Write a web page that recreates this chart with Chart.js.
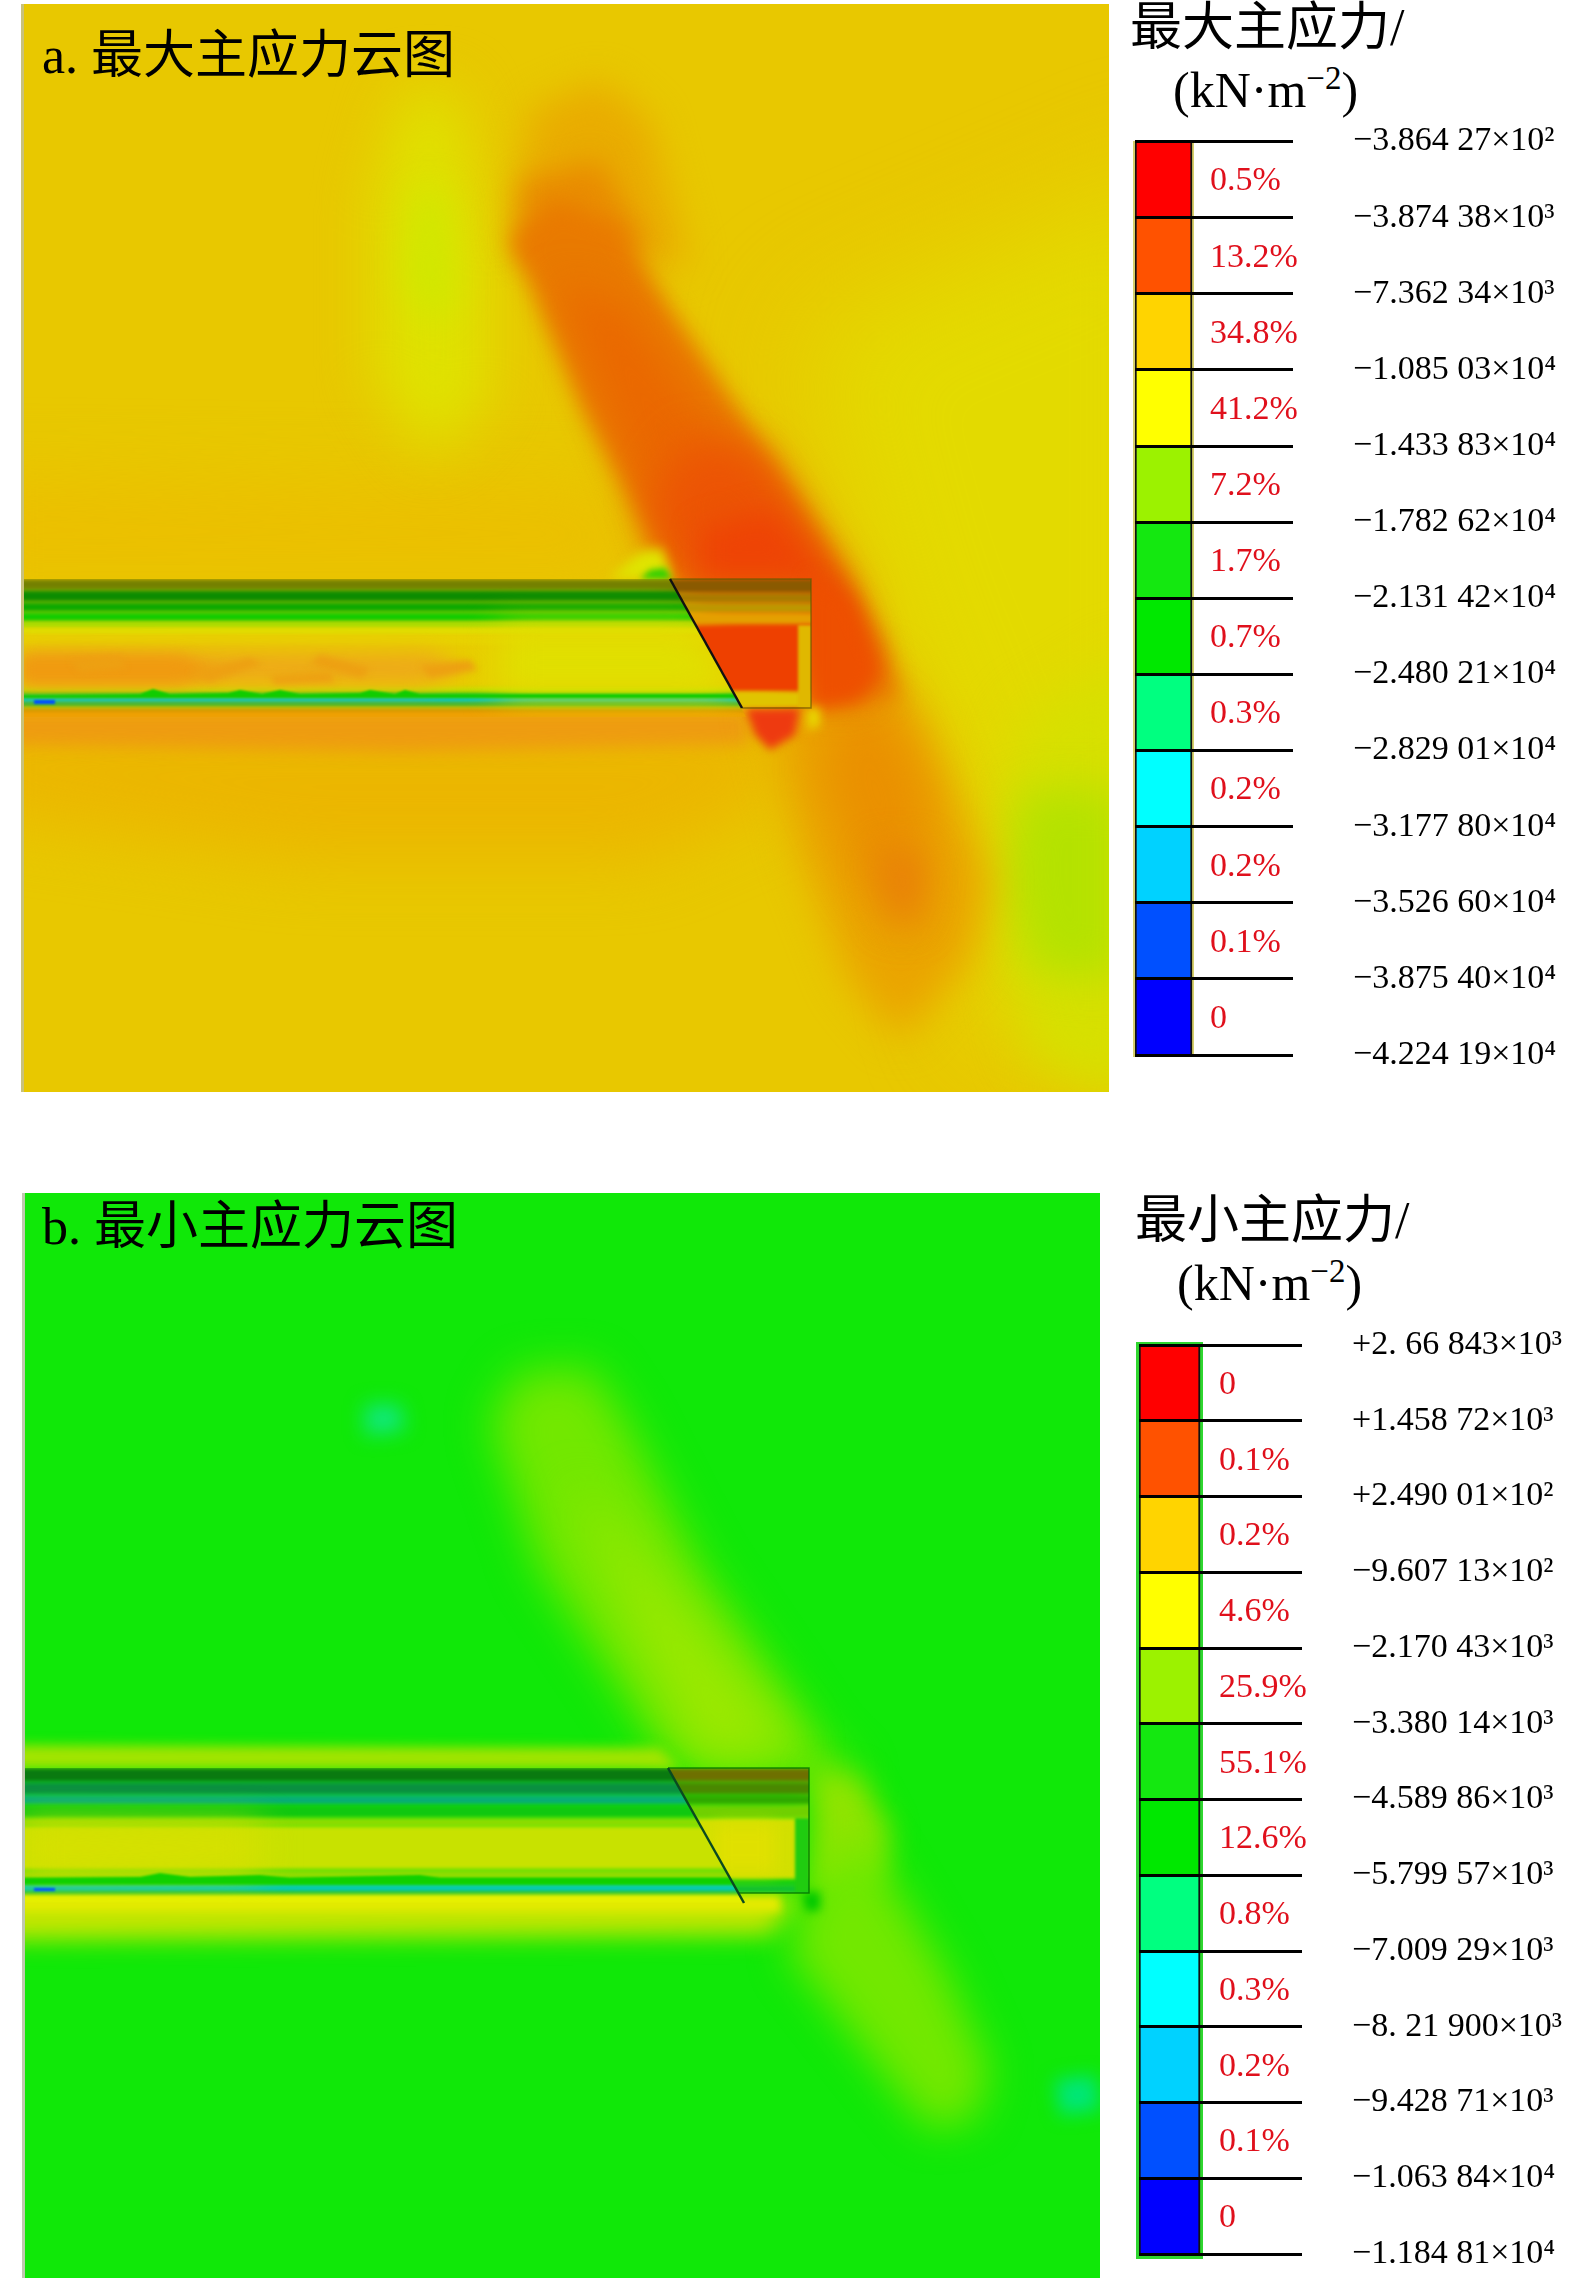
<!DOCTYPE html>
<html>
<head>
<meta charset="utf-8">
<title>主应力云图</title>
<script src="https://cdn.jsdelivr.net/npm/chart.js@4"></script>
<style>
  html, body { margin: 0; padding: 0; background: #fff; }
  body { position: relative; width: 1575px; height: 2281px; overflow: hidden; font-family: "Liberation Serif", "Noto Sans CJK SC", serif; color: #000; }
  canvas, .txt, .frame { position: absolute; }
  .txt { white-space: nowrap; line-height: 1; }
  .panel-title, .bar-title { font-size: 52px; }
  .bar-unit { font-size: 50px; }
  .bar-unit sup { font-size: 33px; line-height: 0; }
</style>
</head>
<body>
<canvas id="fieldA" width="1088" height="1088" style="left:21px;top:4px"></canvas>
<div class="txt panel-title" style="left:42px;top:30px">a. 最大主应力云图</div>
<div class="txt bar-title" style="left:1130px;top:2px">最大主应力/</div>
<div class="txt bar-unit" style="left:1173px;top:65px">(kN·m<sup>−2</sup>)</div>
<div class="frame" style="left:1133px;top:141px;width:61px;height:916px;background:#d6cf6a"></div>
<canvas id="barA" width="440" height="1000" style="left:1135px;top:100px"></canvas>

<canvas id="fieldB" width="1078" height="1085" style="left:22px;top:1193px"></canvas>
<div class="txt panel-title" style="left:42px;top:1201px">b. 最小主应力云图</div>
<div class="txt bar-title" style="left:1135px;top:1195px">最小主应力/</div>
<div class="txt bar-unit" style="left:1177px;top:1258px">(kN·m<sup>−2</sup>)</div>
<div class="frame" style="left:1136px;top:1342px;width:67px;height:917px;background:#2fd62f"></div>
<canvas id="barB" width="436" height="1000" style="left:1139px;top:1300px"></canvas>

<script>
const spectrum = ["#ff0000", "#ff5200", "#ffd400", "#ffff00", "#9cf200", "#14e810", "#00e800", "#00ff80", "#00ffff", "#00d2ff", "#0050ff", "#0000ff"];

const sharesA = ["0.5%", "13.2%", "34.8%", "41.2%", "7.2%", "1.7%", "0.7%", "0.3%", "0.2%", "0.2%", "0.1%", "0"];
const sharesB = ["0", "0.1%", "0.2%", "4.6%", "25.9%", "55.1%", "12.6%", "0.8%", "0.3%", "0.2%", "0.1%", "0"];

const levelsA = ["−3.864 27×10²", "−3.874 38×10³", "−7.362 34×10³", "−1.085 03×10⁴", "−1.433 83×10⁴", "−1.782 62×10⁴", "−2.131 42×10⁴", "−2.480 21×10⁴", "−2.829 01×10⁴", "−3.177 80×10⁴", "−3.526 60×10⁴", "−3.875 40×10⁴", "−4.224 19×10⁴"];
const levelsB = ["+2. 66 843×10³", "+1.458 72×10³", "+2.490 01×10²", "−9.607 13×10²", "−2.170 43×10³", "−3.380 14×10³", "−4.589 86×10³", "−5.799 57×10³", "−7.009 29×10³", "−8. 21 900×10³", "−9.428 71×10³", "−1.063 84×10⁴", "−1.184 81×10⁴"];

// contour outlines, in image pixels
const aRightYellow = [[800,330],[1200,160],[1200,1040],[990,1040],[950,800],[870,600]];
const aLeftWarm = [[-40,480],[620,490],[640,579],[-40,579]];
const aBelowWarm = [[-40,715],[760,715],[780,800],[640,860],[300,860],[-40,810]];
const aBelowStrong = [[-20,710],[750,710],[750,745],[400,752],[-20,745]];
const aPlumeOuter = [[405,90],[455,90],[490,250],[490,400],[430,460],[375,380],[375,200]];
const aPlumeInner = [[415,190],[445,190],[455,300],[430,330],[405,280]];
const aLowPlumeOuter = [[1020,720],[1140,650],[1140,1110],[1030,1060],[1000,900]];
const aLowPlumeInner = [[1020,790],[1120,790],[1120,980],[1030,970],[1010,880]];
const aBandHead = [[530,110],[600,80],[650,120],[690,270],[510,240]];
const aBandNeck = [[520,180],[600,160],[650,250],[520,260]];
const aBandBody = [[510,240],[555,200],[620,225],[665,300],[785,480],[885,640],[900,700],[800,700],[700,610],[669,567],[582,407]];
const aBandCore = [[560,280],[625,310],[770,500],[860,640],[760,640],[665,560],[610,420]];
const aBandWarm = [[650,500],[690,440],[760,450],[850,590],[870,690],[820,700],[811,579],[680,579]];
const aBandHot = [[700,530],[770,510],[835,585],[860,670],[820,680],[811,579],[700,579]];
const aBoxRight = [[811,575],[850,600],[880,670],[860,700],[811,710]];
const aLowBand = [[760,690],[885,660],[930,730],[990,880],[970,960],[900,1040],[850,980],[800,850]];
const aLowCore = [[840,710],[890,710],[930,800],[905,930],[860,880],[820,770]];
const aLowHot = [[875,850],[925,850],[920,925],[890,920]];
const aBumpHalo = [[610,579],[640,552],[662,548],[672,579]];
const aBump = [[640,579],[650,570],[665,568],[672,579]];
const aTip = [[745,708],[800,708],[795,735],[770,750],[755,735]];
const aSpot = [[806,708],[820,708],[820,726],[808,730]];
const aCoreWarm = [[21,650],[430,652],[470,670],[420,685],[21,686]];
const aCoreHot = [[21,655],[180,655],[220,672],[180,684],[21,684]];
const aCoreLight = [[500,630],[700,630],[740,695],[500,695]];
const aCoreFlecks = [[[70,660],[120,655],[125,668],[80,672]], [[190,672],[250,658],[262,664],[210,682]], [[320,655],[370,668],[362,678],[310,664]], [[420,666],[470,660],[478,670],[430,678]], [[270,676],[330,672],[335,682],[275,684]]];
const aFringe = [[21,695],[140,694],[153,689],[170,694],[228,693],[240,690],[262,694],[280,690],[300,694],[360,693],[370,690],[395,694],[405,690],[420,694],[742,694],[742,698],[21,698]];
const aStreak = [[34,700],[55,700],[55,704],[34,704]];
const aBoxHotEdge = [[798,625],[812,625],[812,708],[798,708]];

const aSlabLeft = [[0,579],[670,579],[746,717],[0,717]];
const aSlabBox = [[670,579],[811,579],[811,707],[742,707]];
const aRowEdges = [579,590,602,612,622,628,635,647,687,693,696,703,707,710,712,717];
const aRowTints = ["#748000","#0c8c00","#0ca800","#12cc00","#a4e000","#e0e000","#e8d200","#e8ce00","#c8e000","#10cc00","#00c8c8","#00b030","#e8d800","#a86400","#f0a000"];
const aBoxEdges = [579,593,603,613,625,692,707];
const aBoxTints = ["#8a5a00","#a87c00","#bc9800","#e4a000","#ee4000","#e0c400"];
const aSlant = [[670,579],[742,708]];
const aBoxLine = [[670,579],[811,579],[811,708],[742,708]];

const bBandUp = [[490,1420],[520,1372],[590,1368],[625,1420],[700,1567],[825,1750],[860,1780],[700,1780],[660,1750],[538,1567]];
const bBandInner = [[570,1480],[610,1520],[800,1750],[700,1760],[640,1640]];
const bBoxRight = [[811,1765],[860,1775],[890,1830],[880,1880],[830,1900],[811,1890]];
const bBandLow = [[800,1900],[860,1830],[885,1870],[945,1970],[990,2070],[975,2120],[930,2130],[900,2095],[790,1955]];
const bHaloUp = [[-20,1745],[660,1748],[680,1769],[-20,1769]];
const bHaloLow = [[-20,1894],[800,1894],[770,1935],[-20,1940]];
const bHaloStrong = [[-20,1896],[780,1896],[780,1912],[-20,1912]];
const bDarkSpot = [[802,1892],[820,1892],[820,1910],[806,1912]];
const bTealUp = [[365,1405],[400,1405],[405,1430],[365,1435]];
const bTealLow = [[1055,2080],[1095,2075],[1100,2110],[1060,2115]];
const bCoreWarm = [[21,1825],[260,1828],[260,1868],[21,1872]];
const bCoreLight = [[715,1825],[775,1825],[775,1872],[715,1872]];
const bFringe = [[22,1878],[140,1877],[160,1873],[190,1877],[260,1875],[290,1878],[420,1875],[440,1878],[742,1878],[742,1884],[22,1884]];
const bStreak = [[34,1888],[55,1888],[55,1891],[34,1891]];
const bBoxEdge = [[795,1818],[810,1818],[810,1893],[795,1893]];

const bSlabLeft = [[0,1768],[668,1768],[744,1903],[0,1903]];
const bSlabBox = [[668,1768],[809,1768],[809,1893],[738,1893]];
const bRowEdges = [1768,1782,1795,1805,1818,1826,1870,1880,1885,1892,1895,1903];
const bRowTints = ["#0a7a10","#0a9040","#08ad78","#10c810","#90dc00","#c8e200","#90dc00","#10d000","#00c8c8","#00b030","#e8f000"];
const bBoxEdges = [1768,1782,1795,1805,1818,1880,1885,1893];
const bBoxTints = ["#6e7000","#4a8800","#30a800","#70d000","#d2e000","#10cc10","#10c030"];
const bSlant = [[668,1768],[744,1903]];
const bBoxLine = [[668,1768],[809,1768],[809,1893],[738,1893]];

// filled contour patch: same parsing as a line, drawn as a soft polygon
class FieldPatch extends Chart.LineController {
  draw() {
    const ds = this.getDataset();
    const ctx = this.chart.ctx;
    const { x, y } = this.chart.scales;
    const points = this.getMeta().data;
    ctx.save();
    if (ds.inside) {
      ctx.beginPath();
      ds.inside.forEach((p) => ctx.lineTo(x.getPixelForValue(p[0]), y.getPixelForValue(p[1])));
      ctx.closePath();
      ctx.clip();
    }
    if (ds.soft) ctx.filter = `blur(${ds.soft}px)`;
    ctx.fillStyle = ds.tint;
    ctx.beginPath();
    points.forEach((pt) => ctx.lineTo(pt.x, pt.y));
    ctx.closePath();
    ctx.fill();
    ctx.restore();
  }
}
FieldPatch.id = "fieldPatch";
FieldPatch.defaults = {};
Chart.register(FieldPatch);

function patch(outline, tint, soft, inside) {
  return {
    type: "fieldPatch",
    data: outline.map((p) => ({ x: p[0], y: p[1] })),
    tint: tint,
    soft: soft,
    inside: inside,
  };
}

function rows(edges, tints, x0, x1, inside) {
  return tints.map((tint, i) =>
    patch([[x0, edges[i]], [x1, edges[i]], [x1, edges[i + 1]], [x0, edges[i + 1]]], tint, 2, inside)
  );
}

function stroke(path, color, width) {
  return {
    type: "line",
    data: path.map((p) => ({ x: p[0], y: p[1] })),
    borderColor: color,
    borderWidth: width,
    pointRadius: 0,
    fill: false,
    tension: 0,
  };
}

function field(id, xMin, xMax, yMin, yMax, datasets) {
  new Chart(document.getElementById(id), {
    type: "line",
    // chart.js paints the first dataset last, the lists below are bottom to top
    data: { datasets: datasets.reverse() },
    options: {
      responsive: false,
      animation: false,
      events: [],
      layout: { padding: 0, autoPadding: false },
      plugins: { legend: { display: false }, tooltip: { enabled: false } },
      scales: {
        x: { type: "linear", display: false, min: xMin, max: xMax },
        y: { type: "linear", display: false, min: yMin, max: yMax, reverse: true },
      },
    },
  });
}

function colorBar(id, shares, levels, padTop, padBottom, xMax, axisWidth, shareGap, levelGap) {
  new Chart(document.getElementById(id), {
    type: "bar",
    data: {
      labels: shares,
      datasets: [{
        data: shares.map(() => 1),
        backgroundColor: spectrum,
        borderColor: "#111",
        borderWidth: { left: 2, right: 2, top: 0, bottom: 0 },
        borderSkipped: false,
        barPercentage: 1,
        categoryPercentage: 1,
        xAxisID: "x",
        yAxisID: "y",
      }],
    },
    options: {
      indexAxis: "y",
      responsive: false,
      animation: false,
      events: [],
      layout: { padding: { top: padTop, bottom: padBottom, left: 0, right: 0 } },
      plugins: { legend: { display: false }, tooltip: { enabled: false } },
      scales: {
        x: { type: "linear", display: false, min: 0, max: xMax },
        y: {
          type: "category",
          position: "left",
          offset: true,
          border: { display: false },
          grid: { offset: true, color: "#000", lineWidth: 3, drawTicks: false, z: 1 },
          afterFit: (scale) => {
            scale.width = 0;
            scale.paddingTop = 0;
            scale.paddingBottom = 0;
          },
          ticks: {
            mirror: true,
            padding: shareGap,
            labelOffset: 2,
            autoSkip: false,
            color: "#e0101c",
            font: { family: "'Liberation Serif'", size: 34 },
          },
        },
        levels: {
          type: "linear",
          position: "right",
          min: 0,
          max: 12,
          reverse: true,
          offset: false,
          border: { display: false },
          grid: { drawOnChartArea: false, drawTicks: false, offset: false },
          afterBuildTicks: (scale) => { scale.ticks = levels.map((_, i) => ({ value: i })); },
          afterFit: (scale) => {
            scale.width = axisWidth;
            scale.paddingTop = 0;
            scale.paddingBottom = 0;
          },
          ticks: {
            padding: levelGap,
            autoSkip: false,
            color: "#000",
            font: { family: "'Liberation Serif'", size: 34 },
            callback: (v) => levels[v],
          },
        },
      },
    },
  });
}

field("fieldA", 21, 1109, 4, 1092, [
  patch([[0,-50],[1200,-50],[1200,1200],[0,1200]], "#e8c800", 0),
  patch(aRightYellow, "#e3da00", 55),
  patch(aLeftWarm, "#ebbf00", 35),
  patch(aBelowWarm, "#ebb600", 32),
  patch(aBelowStrong, "#ee9c10", 8),
  patch(aPlumeOuter, "#dfe200", 28),
  patch(aPlumeInner, "#cfe800", 18),
  patch(aLowPlumeOuter, "#d6e000", 26),
  patch(aLowPlumeInner, "#b4e200", 22),
  patch(aBandHead, "#e9ac00", 18),
  patch(aBandNeck, "#e98c00", 14),
  patch(aLowBand, "#eaa400", 20),
  patch(aLowCore, "#ea9000", 22),
  patch(aLowHot, "#e98008", 18),
  patch(aBandBody, "#e97a00", 11),
  patch(aBandCore, "#ea6800", 20),
  patch(aBandWarm, "#ec5404", 22),
  patch(aBandHot, "#ee4405", 14),
  patch(aBoxRight, "#ee5000", 9),
  patch(aBumpHalo, "#dfe400", 6),
  patch(aBump, "#30d000", 3),
  patch(aTip, "#ee3a10", 4),
  patch(aSpot, "#e8d800", 5),
  ...rows(aRowEdges, aRowTints, 0, 780, aSlabLeft),
  patch(aCoreWarm, "#eeaa18", 10, aSlabLeft),
  patch(aCoreHot, "#f09a10", 7, aSlabLeft),
  ...aCoreFlecks.map((fleck) => patch(fleck, "#eda012", 3, aSlabLeft)),
  patch(aCoreLight, "#e0e000", 18, aSlabLeft),
  patch(aFringe, "#10cc00", 1.2, aSlabLeft),
  patch(aStreak, "#0050ff", 1),
  ...rows(aBoxEdges, aBoxTints, 660, 820, aSlabBox),
  patch(aBoxHotEdge, "#e0b800", 1.5, aSlabBox),
  patch([[21,4],[24,4],[24,1092],[21,1092]], "#c9c27a", 0),
  stroke(aBoxLine, "rgba(90,90,0,0.65)", 1.5),
  stroke(aSlant, "#111", 2.5),
]);

field("fieldB", 22, 1100, 1193, 2278, [
  patch([[0,1100],[1200,1100],[1200,2400],[0,2400]], "#10e808", 0),
  patch(bBandUp, "#72e800", 22),
  patch(bBandInner, "#9ce800", 24),
  patch(bBoxRight, "#90e400", 14),
  patch(bBandLow, "#72e800", 20),
  patch(bHaloUp, "#a4e400", 6),
  patch(bHaloLow, "#c8e600", 12),
  patch(bHaloStrong, "#e6ea00", 4),
  patch(bDarkSpot, "#00c800", 5),
  patch(bTealUp, "#10e880", 10),
  patch(bTealLow, "#00e678", 9),
  ...rows(bRowEdges, bRowTints, 0, 780, bSlabLeft),
  patch(bCoreWarm, "#d8e000", 18, bSlabLeft),
  patch(bFringe, "#10d000", 1.2, bSlabLeft),
  patch(bStreak, "#0050ff", 1),
  ...rows(bBoxEdges, bBoxTints, 660, 820, bSlabBox),
  patch(bCoreLight, "#e0e000", 8, bSlabBox),
  patch(bBoxEdge, "#20cc10", 1.5, bSlabBox),
  patch([[22,1193],[25,1193],[25,2278],[22,2278]], "#c0c8b0", 0),
  stroke(bBoxLine, "rgba(0,110,0,0.8)", 1.5),
  stroke(bSlant, "#0a4a20", 2.5),
]);

colorBar("barA", sharesA, levelsA, 41.5, 45, 2.77, 282, 75, 60);
colorBar("barB", sharesB, levelsB, 45, 46, 2.67, 273, 80, 50);
</script>
</body>
</html>
